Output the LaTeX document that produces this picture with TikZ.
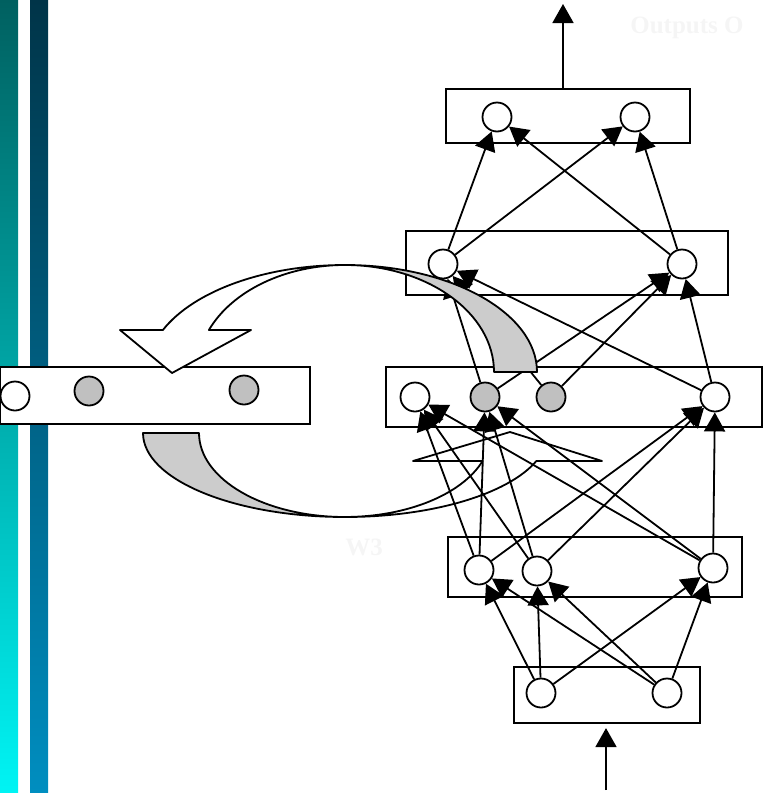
\documentclass[tikz,border=0pt]{standalone}
\usepackage{fontspec}
\usepackage{xcolor}
\newfontfamily\labelfont{Liberation Serif}
\usetikzlibrary{
    arrows.meta,
    positioning
}
\definecolor{nodegray}{RGB}{192,192,192}
\definecolor{bandgray}{RGB}{204,204,204}
\definecolor{faint}{RGB}{245,245,245}
\definecolor{barAtop}{RGB}{0,96,96}
\definecolor{barAbot}{RGB}{0,244,244}
\definecolor{barBtop}{RGB}{0,52,72}
\definecolor{barBbot}{RGB}{0,142,192}

\begin{document}
\begin{tikzpicture}[x=1pt, y=-1pt,
    >={Triangle[length=19pt,width=21pt]},
    unit/.style={inner sep=0pt, circle, minimum size=29pt, draw=black, line width=1.8pt, fill=white},
    ctx/.style={unit, fill=nodegray},
    layer/.style={draw=black, line width=2.2pt, fill=white, inner sep=0pt},
    conn/.style={line width=1.8pt},
    band/.style={draw=black, line width=1.8pt, line join=round},
    labeltext/.style={font=\labelfont\bfseries\fontsize{25}{25}\selectfont, text=faint}]
                        \useasboundingbox (0,0) rectangle (768,793);
                        % side bars
                        \shade[top color=barAtop, bottom color=barAbot] (0,0) rectangle (18,793);
                        \shade[top color=barBtop, bottom color=barBbot] (30,0) rectangle (48,793);
                        % copy arrow back to the hidden layer
                        \filldraw[band, fill=bandgray] (143,433) arc[start angle=180, end angle=90, x radius=202, y radius=84]
                            arc[start angle=90, end angle=180, x radius=146, y radius=84] -- cycle;
                        \filldraw[band, fill=white] (345,517) arc[start angle=90, end angle=19.5, x radius=203, y radius=84]
                            -- (602,461) -- (510,432) -- (413,461) -- (482.6,461)
                            arc[start angle=19.5, end angle=90, x radius=146, y radius=84] -- cycle;
                        % layers
                        \node[layer, minimum width=244pt, minimum height=54pt] (outbox) at (568,116) {};
                        \node[layer, minimum width=322pt, minimum height=64pt] (hidbox) at (567,263) {};
                        \node[layer, minimum width=376pt, minimum height=60pt] (midbox) at (574,397) {};
                        \node[layer, minimum width=310pt, minimum height=57pt] (ctxbox) at (155,395.5) {};
                        \node[layer, minimum width=294pt, minimum height=60pt] (lowbox) at (595,567) {};
                        \node[layer, minimum width=186pt, minimum height=56pt] (inbox) at (607,695) {};
                        % units
                        \node[unit] (o1) at (497,117) {};
                        \node[unit] (o2) at (635,117) {};
                        \node[unit] (h2a) at (443,264) {};
                        \node[unit] (h2b) at (682,264) {};
                        \node[unit] (m1) at (415,397) {};
                        \node[ctx] (m2) at (485,397) {};
                        \node[ctx] (m3) at (551,397) {};
                        \node[unit] (m4) at (715,397) {};
                        \node[unit] (k1) at (15,396) {};
                        \node[ctx] (k2) at (89,391) {};
                        \node[ctx] (k3) at (244,390) {};
                        \node[unit] (h1a) at (479,570) {};
                        \node[unit] (h1b) at (537,571) {};
                        \node[unit] (h1c) at (713,568) {};
                        \node[unit] (i1) at (541,693) {};
                        \node[unit] (i2) at (667,693) {};
                        \coordinate (outtip) at (563,4);
                        \coordinate (intail) at (606,790);
                        \draw[conn]
                        (i1) edge[->] (h1a) (i1) edge[->] (h1b) (i1) edge[->] (h1c)
                        (i2) edge[->] (h1a) (i2) edge[->] (h1b) (i2) edge[->] (h1c)
                        (h1a) edge[->] (m1) (h1a) edge[->] (m2) (h1a) edge[->] (m4)
                        (h1b) edge[->] (m1) (h1b) edge[->] (m2) (h1b) edge[->] (m4)
                        (h1c) edge[->] (m1) (h1c) edge[->] (m2) (h1c) edge[->] (m4)
                        (m2) edge[->] (h2a) (m2) edge[->] (h2b)
                        (m3) edge[->] (h2a) (m3) edge[->] (h2b)
                        (m4) edge[->] (h2a) (m4) edge[->] (h2b)
                        (h2a) edge[->] (o1) (h2a) edge[->] (o2)
                        (h2b) edge[->] (o1) (h2b) edge[->] (o2);
                        \draw[conn, ->] (outtip |- outbox.north) -- (outtip);
                        \draw[conn, ->, shorten >=4pt] (intail) -- (intail |- inbox.south);
                        % copy arrow to the context layer
                        \filldraw[band, fill=bandgray] (537,372) arc[start angle=0, end angle=-90, x radius=192, y radius=107]
                            arc[start angle=-90, end angle=0, x radius=149, y radius=107] -- cycle;
                        \filldraw[band, fill=white] (345,265) arc[start angle=-90, end angle=-156.9, x radius=198, y radius=107]
                            -- (120,330) -- (172,373) -- (251,330) -- (208.9,330)
                            arc[start angle=-156.9, end angle=-90, x radius=148, y radius=107] -- cycle;
                        % faint labels
                        \node[labeltext] (outlabel) at (687,28) {Outputs O};
                        \node[labeltext] (wlabel) at (364,547) {W3};
                    \end{tikzpicture}
\end{document}
